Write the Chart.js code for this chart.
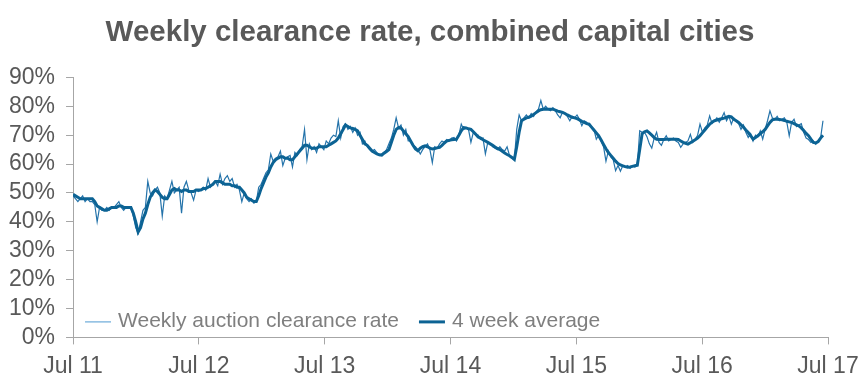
<!DOCTYPE html>
<html>
<head>
<meta charset="utf-8">
<script src="https://cdn.jsdelivr.net/npm/chart.js@4.4.1/dist/chart.umd.min.js"></script>
<style>
  html, body { margin: 0; padding: 0; background: #ffffff; }
  #wrap { width: 866px; height: 383px; position: relative; }
</style>
</head>
<body>
<div id="wrap"><canvas id="c"></canvas></div>
<script>
// ---- Data (weekly, starting first week of July 2011) ----
const chartTitle = 'Weekly clearance rate, combined capital cities';
const seriesNames = ['Weekly auction clearance rate', '4 week average'];
const xTickLabels = ['Jul 11', 'Jul 12', 'Jul 13', 'Jul 14', 'Jul 15', 'Jul 16', 'Jul 17'];
const weeksPerYear = 52.18;

const weeklyRate = [
  // Jul 11 - Jul 12
  49, 48, 47, 48, 49, 47, 48, 47, 47, 46,
  40, 45, 44, 44, 45, 44, 45, 45, 46, 47,
  45, 44, 45, 45, 45, 42, 38, 36, 40, 44,
  45, 54, 50, 49, 51, 52, 50, 42, 49, 48,
  51, 54, 50, 51, 52, 43, 52, 54, 51, 50,
  47.5, 51,
  // Jul 12 - Jul 13
  50.5, 51, 52, 51, 55, 52, 53, 54, 52.5, 56.5,
  53, 55, 56, 54, 55, 52, 53, 51, 47, 50,
  48, 47, 48, 46.5, 47, 52, 53, 55, 57, 58,
  63.5, 61, 62, 62.5, 64.5, 59.5, 62, 62.5, 63, 59,
  64, 63, 65, 66, 72, 61.5, 67, 65, 66, 64,
  67, 66,
  // Jul 13 - Jul 14
  65, 68, 67, 69, 70, 69.5, 75, 69, 73, 74,
  72, 73, 71, 72.5, 70, 71, 67, 68, 66, 65,
  64.5, 65, 64, 63, 63.5, 64, 65, 67, 69, 72,
  76, 72.5, 73.5, 70, 72, 68, 68, 66.5, 66, 65,
  63.5, 65, 66, 67, 65, 60.5, 66, 65.5, 67, 68,
  67.5, 68.5,
  // Jul 14 - Jul 15
  68, 69, 69.2, 68, 70, 73.8, 72, 72.5, 72, 67.5,
  71, 70, 70, 68.5, 69, 63.5, 67.5, 67, 66, 65.5,
  65, 66, 65, 64.5, 66, 63, 62, 61.5, 72, 77,
  75, 76, 77, 76, 77.5, 76.5, 78, 79, 82, 79,
  80, 79, 78.5, 79.5, 78.5, 77, 76, 78, 77.5, 76.5,
  75, 76.5,
  // Jul 15 - Jul 16
  76, 77, 75.5, 73.3, 75, 74.5, 73.5, 73, 72, 68.6,
  70, 68, 66, 61, 64.5, 62.5, 61.5, 57.7, 59.5, 57.5,
  59.5, 59, 59.5, 58.5, 59.5, 59, 59.5, 71.5, 71, 71,
  69.5, 67, 65.5, 69, 71, 67.5, 66.5, 68.5, 69.8, 68,
  68.5, 69, 68, 67.5, 65.8, 67, 67.5, 68, 70.3, 67.5,
  68.5, 70,
  // Jul 16 - Jul 17
  73.8, 71, 72.5, 73.5, 76.7, 74, 75, 76, 74.5, 76,
  77.8, 75, 76.5, 73.8, 76, 75, 74, 72, 73.5, 71,
  69.2, 70.5, 68, 70, 69.5, 71.5, 68.6, 72, 75, 78.4,
  76, 75.5, 76.5, 75, 75.5, 76, 74.5, 69.8, 74.5, 75.5,
  73, 73.5, 74, 71, 69, 68.5, 67.5, 68, 66.9, 68,
  69, 75
];

const fourWeekAvg = [
  // Jul 11 - Jul 12
  49.5, 49, 48.5, 48, 48, 48, 48, 48, 48, 47,
  45.5, 45, 44.5, 44, 44, 44.5, 45, 45, 45, 45.5,
  45.5, 45, 45, 45, 45, 43, 40, 36.5, 38, 41,
  43, 46, 48.5, 50, 51, 50.5, 49.5, 48.5, 48, 48,
  49.5, 51, 51.5, 51, 51, 50.5, 51, 51, 50.5, 50.5,
  50.5, 51,
  // Jul 12 - Jul 13
  51, 51, 51.5, 51.5, 52, 52.5, 53, 54, 54, 54,
  53.5, 53, 53, 53, 52.5, 52.5, 52, 52, 51, 50,
  48.5, 48, 47.5, 47, 47, 49, 51.5, 53.5, 55.5, 57,
  59, 60.5, 61.5, 62, 62.5, 62.5, 62, 62, 61.5, 61.5,
  62.5, 63.5, 64.5, 65.5, 66.5, 66.5, 66, 65.5, 65.5, 65.5,
  66, 66,
  // Jul 13 - Jul 14
  66, 66, 66.5, 67, 67.5, 68, 69, 70.5, 72, 73.5,
  73, 72.5, 72.3, 72, 71.5, 70, 68.5, 67, 66.5, 65.5,
  64.5, 64, 63.5, 63.2, 63.1, 63.8, 64.3, 65, 67.5, 70,
  72, 72.6, 72.5, 71.5, 70.5, 69.5, 68, 66.5, 65.2, 64.6,
  65.5, 66, 66.3, 66, 65.5, 65.2, 65.4, 65.6, 65.8, 66.5,
  67.3, 68,
  // Jul 14 - Jul 15
  68.2, 68.4, 68.5, 68.6, 70, 71.5, 72.6, 72.5, 72.2, 72,
  71.2, 70.3, 69.4, 69, 68.4, 68, 67.5, 67, 66.5, 65.9,
  65.4, 65, 64.4, 63.8, 63.3, 62.9, 62.3, 61.6, 66, 71,
  75, 75.5, 76, 76.2, 76.6, 77.2, 77.8, 78.4, 78.8, 79,
  79, 79, 79, 79, 78.7, 78.3, 78.1, 77.9, 77.5, 77,
  76.6, 76.2,
  // Jul 15 - Jul 16
  76, 75.7, 75.3, 74.8, 74.4, 74, 73.8, 72.8, 71.8, 70.8,
  69.8, 68.3, 66.8, 65.3, 64, 63, 62, 61, 60.2, 59.7,
  59.4, 59.1, 58.9, 59, 59.2, 59.4, 59.6, 65, 70.5, 71.2,
  71.5, 70.8, 70, 69.2, 68.6, 68.5, 68.5, 68.5, 68.6, 68.6,
  68.6, 68.6, 68.6, 68.5, 68, 67.5, 67.2, 66.9, 67.4, 67.9,
  68.4, 69,
  // Jul 16 - Jul 17
  69.8, 70.8, 71.8, 72.8, 73.8, 74.5, 75, 75.2, 75.5, 75.7,
  75.9, 76.2, 76.5, 76.3, 75.5, 75, 74.4, 73.6, 72.8, 71.8,
  70.9, 69.8, 68.6, 69.2, 69.8, 70.5, 71.2, 72, 73.2, 74.4,
  75.3, 75.5, 75.5, 75.4, 75.3, 75.1, 74.8, 74.6, 74.4, 74,
  73.6, 73.2, 72.5, 71.6, 70.6, 69.8, 68.6, 67.5, 67.3, 67.8,
  69, 70
];

// ---- Styling ----
const FONT = "'Liberation Sans', Arial, Helvetica, sans-serif";
const TEXT_COLOR = '#595959';
const AXIS_COLOR = '#a6a6a6';
const WEEKLY_COLOR = '#2473aa';
const AVG_COLOR = '#0c6394';

const toPoints = arr => arr.map((v, i) => ({ x: i, y: v }));

const insideLegend = {
  id: 'insideLegend',
  afterDraw(chart) {
    const { ctx, chartArea } = chart;
    const y = chartArea.bottom - 16;
    ctx.save();
    ctx.font = '21px ' + FONT;
    ctx.textBaseline = 'middle';
    ctx.textAlign = 'left';
    let x = chartArea.left + 12;
    chart.data.datasets.forEach((ds, i) => {
      ctx.beginPath();
      ctx.strokeStyle = i === 0 ? '#6aaad8' : ds.borderColor;
      ctx.lineWidth = i === 0 ? 1.2 : 3;
      ctx.moveTo(x, y + 0.5);
      ctx.lineTo(x + 26, y + 0.5);
      ctx.stroke();
      ctx.fillStyle = '#7f7f7f';
      ctx.fillText(ds.label, x + 33, y);
      x += 33 + ctx.measureText(ds.label).width + 20;
    });
    ctx.restore();
  }
};

new Chart(document.getElementById('c'), {
  type: 'line',
  data: {
    datasets: [
      {
        label: seriesNames[0],
        data: toPoints(weeklyRate),
        borderColor: WEEKLY_COLOR,
        borderWidth: 1.2,
        pointRadius: 0,
        tension: 0,
        order: 2
      },
      {
        label: seriesNames[1],
        data: toPoints(fourWeekAvg),
        borderColor: AVG_COLOR,
        borderWidth: 3,
        pointRadius: 0,
        tension: 0,
        order: 1
      }
    ]
  },
  options: {
    responsive: true,
    maintainAspectRatio: false,
    animation: false,
    layout: { padding: { left: -2, right: 4, top: 0, bottom: -5 } },
    plugins: {
      legend: { display: false },
      tooltip: { enabled: false },
      title: {
        display: true,
        text: chartTitle,
        color: TEXT_COLOR,
        font: { family: FONT, size: 29.5, weight: 'bold' },
        padding: { top: 15, bottom: 27 }
      }
    },
    scales: {
      x: {
        type: 'linear',
        min: 0,
        max: weeksPerYear * (xTickLabels.length - 1),
        afterBuildTicks: scale => {
          scale.ticks = xTickLabels.map((_, i) => ({ value: i * weeksPerYear }));
        },
        afterFit: scale => { scale.paddingRight = 38; },
        ticks: {
          color: TEXT_COLOR,
          font: { family: FONT, size: 23 },
          padding: 8,
          maxRotation: 0,
          autoSkip: false,
          callback: (v, i) => xTickLabels[i]
        },
        grid: { display: true, drawOnChartArea: false, drawTicks: true, tickLength: 7, color: AXIS_COLOR },
        border: { display: true, color: AXIS_COLOR, width: 1 }
      },
      y: {
        min: 0,
        max: 90,
        ticks: {
          stepSize: 10,
          autoSkip: false,
          color: TEXT_COLOR,
          font: { family: FONT, size: 23 },
          padding: 11,
          callback: v => v + '%'
        },
        grid: { display: true, drawOnChartArea: false, drawTicks: true, tickLength: 7, color: AXIS_COLOR },
        border: { display: true, color: AXIS_COLOR, width: 1 }
      }
    }
  },
  plugins: [insideLegend]
});
</script>
</body>
</html>
